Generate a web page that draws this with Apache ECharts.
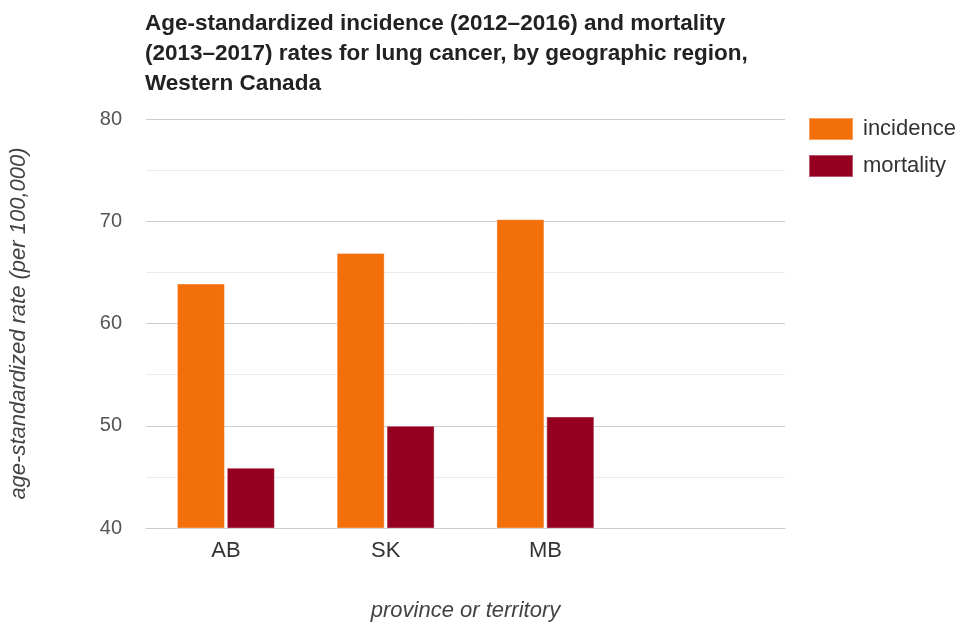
<!DOCTYPE html>
<html>
<head>
<meta charset="utf-8">
<script src="https://cdn.jsdelivr.net/npm/echarts@6/dist/echarts.min.js"></script>
<style>
  html, body { margin: 0; padding: 0; background: #fff; }
  #chart { width: 960px; height: 627px; }
</style>
</head>
<body>
<div id="chart"></div>
<script>
var provinces = ['AB', 'SK', 'MB', ''];
var incidence = [63.9, 66.9, 70.2, null];
var mortality = [45.9, 50.0, 50.9, null];
var incidenceColor = '#f26f0a';
var mortalityColor = '#960020';
var font = 'Liberation Sans';

var chart = echarts.init(document.getElementById('chart'));
var option = {
    animation: false,
    title: {
        text: 'Age-standardized incidence (2012\u20132016) and mortality\n(2013\u20132017) rates for lung cancer, by geographic region,\nWestern Canada',
        left: 145,
        top: 9,
        padding: 0,
        textStyle: {
            fontFamily: font,
            fontSize: 22.5,
            fontWeight: 'bold',
            color: '#222',
            lineHeight: 30
        }
    },
    legend: {
        orient: 'vertical',
        left: 808,
        top: 117,
        padding: 0,
        itemWidth: 44,
        itemHeight: 22,
        itemGap: 13,
        icon: 'rect',
        textStyle: { fontFamily: font, fontSize: 22, color: '#333', lineHeight: 22, padding: [0, 0, 0, 5] },
        data: ['incidence', 'mortality']
    },
    grid: { left: 146, right: 175, top: 119, bottom: 94 },
    xAxis: {
        type: 'category',
        data: provinces,
        name: 'province or territory',
        nameLocation: 'middle',
        nameGap: 72,
        nameTextStyle: { fontFamily: font, fontSize: 22, fontStyle: 'italic', color: '#444' },
        axisLine: { lineStyle: { color: '#cccccc', width: 1 } },
        axisTick: { show: false },
        axisLabel: { fontFamily: font, fontSize: 22, color: '#333', margin: 12 }
    },
    yAxis: {
        type: 'value',
        min: 40,
        max: 80,
        interval: 10,
        name: 'age-standardized rate (per 100,000)',
        nameLocation: 'middle',
        nameGap: 116,
        nameTextStyle: { fontFamily: font, fontSize: 22, fontStyle: 'italic', color: '#444' },
        axisLabel: { fontFamily: font, fontSize: 20, color: '#555', margin: 24 },
        splitLine: { lineStyle: { color: '#cccccc' } },
        minorTick: { show: false, splitNumber: 2 },
        minorSplitLine: { show: true, lineStyle: { color: '#ebebeb' } }
    },
    series: [
        {
            name: 'incidence',
            type: 'bar',
            data: incidence,
            barWidth: 48,
            barGap: '4%',
            itemStyle: { color: incidenceColor, borderColor: 'rgba(255,255,255,0.35)', borderWidth: 1 }
        },
        {
            name: 'mortality',
            type: 'bar',
            data: mortality,
            barWidth: 48,
            barGap: '4%',
            itemStyle: { color: mortalityColor, borderColor: 'rgba(255,255,255,0.35)', borderWidth: 1 }
        }
    ]
};
chart.setOption(option);
</script>
</body>
</html>
